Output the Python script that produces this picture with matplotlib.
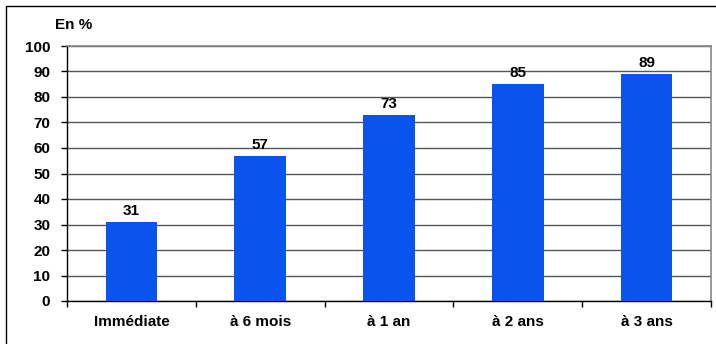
import matplotlib.pyplot as plt
from matplotlib.patches import Rectangle

plt.rcParams["font.family"] = ["Liberation Sans", "DejaVu Sans"]
plt.rcParams["font.weight"] = "bold"

categories = ["Immédiate", "à 6 mois", "à 1 an", "à 2 ans", "à 3 ans"]
values = [31, 57, 73, 85, 89]
yticks = list(range(0, 101, 10))

fs = 11

fig = plt.figure(figsize=(7.16, 3.44), dpi=100)
ax = fig.add_axes([67 / 716, 1 - 301 / 344, (711 - 67) / 716, (301 - 46) / 344])

# outer frame around the chart
fig.patches.append(
    Rectangle((6 / 716, -0.1), 1.2, 1 - 6 / 344 + 0.1, transform=fig.transFigure,
              fill=False, edgecolor="black", linewidth=1.0)
)

x = range(len(categories))
ax.bar(x, values, width=0.4, color="#0A53EC", zorder=3)
for xi, v in zip(x, values):
    ax.text(xi, v + 1.5, str(v), ha="center", va="bottom", fontsize=fs,
            fontweight="bold")

ax.set_xlim(-0.5, len(categories) - 0.5)
ax.set_ylim(0, 100)
ax.set_yticks(yticks)
ax.yaxis.grid(True, color="#555555", linewidth=1.0, zorder=0)
ax.set_axisbelow(True)

ax.set_xticks(x)
ax.set_xticklabels(categories, fontsize=fs, fontweight="bold")
ax.set_xticks([i + 0.5 for i in range(-1, len(categories))], minor=True)
ax.tick_params(axis="x", which="major", length=0, pad=10)
ax.tick_params(axis="x", which="minor", length=4, width=1, color="black")
ax.tick_params(axis="y", length=4, width=1, labelsize=fs, pad=8)

for s in ["top", "right"]:
    ax.spines[s].set_color("#888888")
    ax.spines[s].set_linewidth(1.2)
for s in ["left", "bottom"]:
    ax.spines[s].set_color("black")
    ax.spines[s].set_linewidth(1.0)

fig.text(55 / 716, 1 - 25 / 344, "En %", fontsize=fs, fontweight="bold",
         va="center", ha="left")

fig.savefig("out.png", dpi=100)
